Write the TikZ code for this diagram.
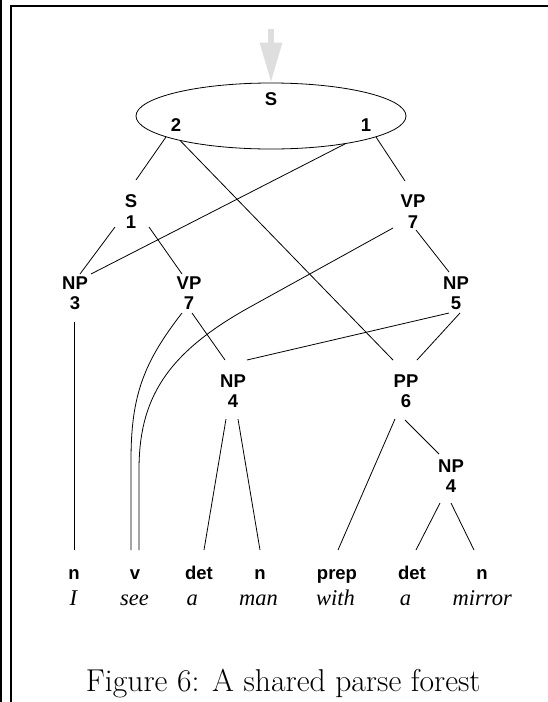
\documentclass[tikz,border=0pt]{standalone}
\usepackage{fontspec}
\newfontfamily\labfont{Liberation Sans}
\newfontfamily\wordfont{Liberation Serif}
\usetikzlibrary{shapes.geometric,arrows.meta}
\begin{document}
\begin{tikzpicture}[x=1pt,y=-1pt,
  cat/.style={font=\labfont\bfseries\fontsize{18.5}{20.5}\selectfont, align=center, inner sep=0pt, anchor=base},
  leaf/.style={font=\labfont\bfseries\fontsize{18.5}{20.5}\selectfont, inner sep=0pt, anchor=base},
  word/.style={font=\wordfont\itshape\fontsize{22.5}{26}\selectfont, inner sep=0pt, anchor=base},
  edge/.style={line width=0.8pt},
  frame/.style={line width=2pt}]
\useasboundingbox (0,0) rectangle (548,702);
% frame
\draw[line width=1.5pt] (1,0) -- (1,702);
\draw[frame] (11,702) -- (11,6) -- (548,6);
% top ellipse
\node[ellipse, draw, line width=0.8pt, minimum width=270pt, minimum height=66pt, inner sep=0pt] (S) at (271,116) {};
\node[leaf] (Slab) at (271,105) {S};
\node[leaf] (S2) at (176,131) {2};
\node[leaf] (S1lab) at (366,131) {1};
\draw[line width=6pt, color=black!13, -{Triangle[length=40pt,width=21pt]}] (271,29) -- (S.north);
% internal nodes (base = baseline of the last line)
\node[cat] (s1) at (131,228) {S\\1};
\node[cat] (vp7r) at (413,228) {VP\\7};
\node[cat] (np3) at (75,309.5) {NP\\3};
\node[cat] (vp7l) at (189,309.5) {VP\\7};
\node[cat] (np5) at (456,309.5) {NP\\5};
\node[cat] (np4a) at (233,407.5) {NP\\4};
\node[cat] (pp6) at (406,407.5) {PP\\6};
\node[cat] (np4b) at (451,492.5) {NP\\4};
% leaves
\node[leaf] (n1) at (74,579.5) {n};
\node[leaf] (v) at (135,579.5) {v};
\node[leaf] (det1) at (199,579.5) {det};
\node[leaf] (n2) at (260,579.5) {n};
\node[leaf] (prep) at (337,579.5) {prep};
\node[leaf] (det2) at (412,579.5) {det};
\node[leaf] (n3) at (482,579.5) {n};
% words
\node[word] (w1) at (73.4,605.8) {I};
\node[word] (w2) at (134.6,605.8) {see};
\node[word] (w3) at (192.2,605.8) {a};
\node[word] (w4) at (258.6,605.8) {man};
\node[word] (w5) at (335.5,605.8) {with};
\node[word] (w6) at (405.4,605.8) {a};
\node[word] (w7) at (482.3,605.8) {mirror};
% caption
\node[font=\fontsize{31.6}{36}\selectfont, inner sep=0pt, anchor=base] (cap) at (283.3,691.7) {Figure 6: A shared parse forest};
% edges
\draw[edge] ([shift={(-105,21)}]S.center) -- ([shift={(5,-48)}]s1.base);
\draw[edge] ([shift={(-91,24.4)}]S.center) -- ([shift={(-13,-47.5)}]pp6.base);
\draw[edge] ([shift={(75,27.4)}]S.center) -- ([shift={(16,-35.5)}]np3.base);
\draw[edge] ([shift={(105,21)}]S.center) -- ([shift={(-8,-47)}]vp7r.base);
\draw[edge] ([shift={(-16,-1)}]s1.base) -- ([shift={(5,-35.5)}]np3.base);
\draw[edge] ([shift={(18,-1)}]s1.base) -- ([shift={(-7,-35.5)}]vp7l.base);
\draw[edge] ([shift={(-20,0)}]vp7r.base) -- (250,307) .. controls (165,354) and (139,400) .. (139,470) -- ([shift={(4,-29.5)}]v.base);
\draw[edge] ([shift={(3,2)}]vp7r.base) -- ([shift={(-7,-37.5)}]np5.base);
\draw[edge] ([shift={(-0.5,12.5)}]np3.base) -- ([shift={(0.5,-29.5)}]n1.base);
\draw[edge] ([shift={(-7,3.5)}]vp7l.base) .. controls (144,362) and (131,395) .. (131,460) -- ([shift={(-4,-29.5)}]v.base);
\draw[edge] ([shift={(3,3.5)}]vp7l.base) -- ([shift={(-8,-47.5)}]np4a.base);
\draw[edge] ([shift={(-7,3.5)}]np5.base) -- ([shift={(14,-47.5)}]np4a.base);
\draw[edge] ([shift={(4,3.5)}]np5.base) -- ([shift={(11,-47.5)}]pp6.base);
\draw[edge] ([shift={(-7,11.5)}]np4a.base) -- ([shift={(5,-29.5)}]det1.base);
\draw[edge] ([shift={(5,11.5)}]np4a.base) -- ([shift={(0,-29.5)}]n2.base);
\draw[edge] ([shift={(-11,11.5)}]pp6.base) -- ([shift={(1,-29.5)}]prep.base);
\draw[edge] ([shift={(-1,12.5)}]pp6.base) -- ([shift={(-12,-38.5)}]np4b.base);
\draw[edge] ([shift={(-11,10.5)}]np4b.base) -- ([shift={(4,-29.5)}]det2.base);
\draw[edge] ([shift={(0,10.5)}]np4b.base) -- ([shift={(-8,-29.5)}]n3.base);
\end{tikzpicture}
\end{document}
